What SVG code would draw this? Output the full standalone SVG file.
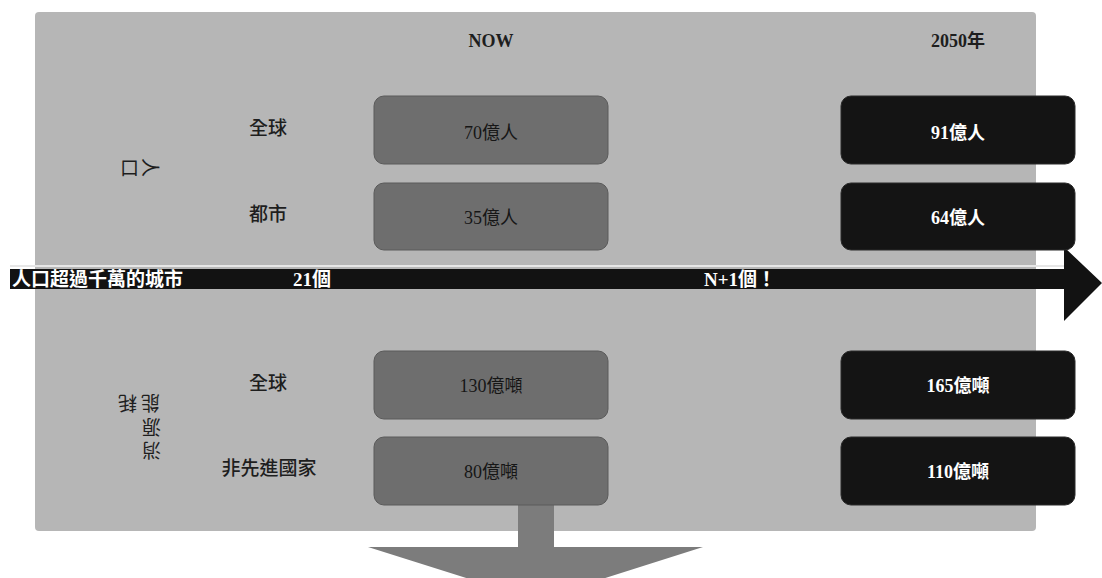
<svg xmlns="http://www.w3.org/2000/svg" width="1102" height="578" viewBox="0 0 1102 578">
<style>
.lbl{font-family:"Liberation Serif","Noto Sans CJK TC",serif;font-size:19px;font-weight:500;fill:#1e1e1e;text-anchor:middle}
.vt{font-family:"Liberation Serif","Noto Sans CJK TC",serif;font-size:19px;fill:#1e1e1e}
.hd{font-family:"Liberation Serif","Noto Sans CJK TC",serif;font-size:18px;font-weight:bold;fill:#1e1e1e;text-anchor:middle}
.now rect{fill:#6e6e6e;stroke:#5a5a5a;stroke-width:1}
.now text{font-family:"Liberation Serif","Noto Sans CJK TC",serif;font-size:18px;fill:#161616;text-anchor:middle}
.fut rect{fill:#141414;stroke:#2a2a2a;stroke-width:1}
.fut text{font-family:"Liberation Serif","Noto Sans CJK TC",serif;font-size:18px;font-weight:bold;fill:#ffffff;text-anchor:middle}
.band{font-family:"Liberation Serif","Noto Sans CJK TC",serif;font-size:19px;font-weight:bold;fill:#ffffff}
</style>
<rect width="1102" height="578" fill="#ffffff"/>
<rect id="panel" x="35" y="12" width="1001" height="519" rx="4" fill="#b6b6b6"/>
<g id="headers">
<text class="hd" x="491" y="47">NOW</text>
<text class="hd" x="958" y="47">2050年</text>
</g>
<g id="group-population">
<text class="vt" x="143 120" y="158 175" rotate="90 0">人口</text>
</g>
<g id="group-energy">
<text class="vt" x="160 161 161 137" y="396 420 443 396" rotate="180 180 180 180">能源消耗</text>
</g>
<g id="row-labels">
<text class="lbl" x="268" y="135">全球</text>
<text class="lbl" x="268" y="221">都市</text>
<text class="lbl" x="268" y="390">全球</text>
<text class="lbl" x="269" y="475">非先進國家</text>
</g>
<g id="connectors">
<line x1="10" y1="266" x2="1064" y2="266" stroke="#e6e6e6" stroke-width="2"/>
<path d="M10 269 H1064 V247 L1102 283 L1064 321 V289 H10 Z" fill="#121212"/>
<path d="M518 505 H554 V547 H703 L536 600 L368 547 H518 Z" fill="#7c7c7c"/>
</g>
<g id="band-labels">
<text class="band" x="12" y="286">人口超過千萬的城市</text>
<text class="band" x="293" y="286">21個</text>
<text class="band" x="704" y="286">N+1個！</text>
</g>
<g id="now-70" class="now"><rect x="374" y="96" width="234" height="68" rx="10"/><text x="491" y="139">70億人</text></g>
<g id="now-35" class="now"><rect x="374" y="183" width="234" height="67" rx="10"/><text x="491" y="224">35億人</text></g>
<g id="now-130" class="now"><rect x="374" y="351" width="234" height="68" rx="10"/><text x="491" y="392">130億噸</text></g>
<g id="now-80" class="now"><rect x="374" y="437" width="234" height="68" rx="10"/><text x="491" y="478">80億噸</text></g>
<g id="fut-91" class="fut"><rect x="841" y="96" width="234" height="68" rx="10"/><text x="958" y="139">91億人</text></g>
<g id="fut-64" class="fut"><rect x="841" y="183" width="234" height="67" rx="10"/><text x="958" y="224">64億人</text></g>
<g id="fut-165" class="fut"><rect x="841" y="351" width="234" height="68" rx="10"/><text x="958" y="392">165億噸</text></g>
<g id="fut-110" class="fut"><rect x="841" y="437" width="234" height="68" rx="10"/><text x="958" y="478">110億噸</text></g>
</svg>
